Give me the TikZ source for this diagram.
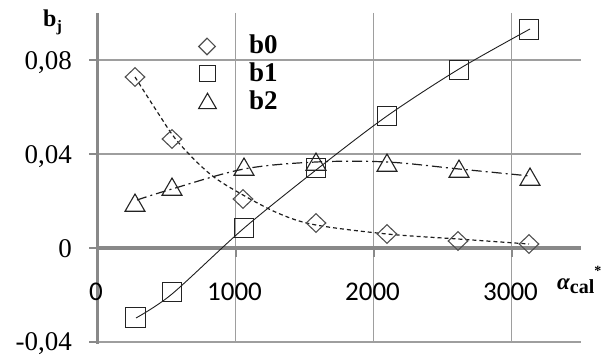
\documentclass[tikz,border=0pt]{standalone}
\usepackage{fontspec}
\setmainfont{Liberation Serif}
\newfontfamily\carl{Carlito}
\usetikzlibrary{shapes.geometric}
\definecolor{axgray}{RGB}{137,137,137}
\definecolor{grgray}{RGB}{158,158,158}
\definecolor{mkgray}{RGB}{80,80,80}
\definecolor{mkdark}{RGB}{35,35,35}
\definecolor{lndark}{RGB}{30,30,30}
\begin{document}
\begin{tikzpicture}[x=1pt,y=-1pt,
  axisln/.style={draw=axgray,line width=3.2pt},
  gridln/.style={draw=grgray,line width=1.1pt},
  tickln/.style={draw=axgray,line width=2.2pt},
  dia/.style={diamond,draw=mkgray,line width=1.1pt,minimum width=20pt,minimum height=19pt,inner sep=0pt},
  sqr/.style={rectangle,draw=mkdark,line width=1.1pt,minimum size=19.5pt,inner sep=0pt},
  tri/.style={regular polygon,regular polygon sides=3,draw=mkdark,line width=1.1pt,minimum size=23pt,inner sep=0pt},
  ldia/.style={dia,minimum width=17pt,minimum height=17pt},
  lsqr/.style={sqr,minimum size=16.5pt},
  ltri/.style={tri,minimum size=20.5pt},
  bzero/.style={draw=lndark,line width=1.2pt,dash pattern=on 4pt off 3pt},
  bone/.style={draw=lndark,line width=0.9pt},
  btwo/.style={draw=lndark,line width=1.2pt,dash pattern=on 10pt off 4pt on 2pt off 4pt},
  ytick/.style={anchor=base east,inner sep=0pt,font=\fontsize{27}{27}\selectfont},
  xtick/.style={anchor=base,inner sep=0pt,font=\carl\fontsize{27}{27}\selectfont},
  legtxt/.style={anchor=base west,inner sep=0pt,font=\bfseries\fontsize{27}{27}\selectfont}]
\useasboundingbox (0,0) rectangle (604,358);
% grid
\draw[gridln] (97,60) -- (581,60);
\draw[gridln] (97,154) -- (581,154);
\draw[gridln] (97,342) -- (581,342);
\draw[gridln] (235.7,13) -- (235.7,342);
\draw[gridln] (373.7,13) -- (373.7,342);
\draw[gridln] (511.7,13) -- (511.7,342);
% axes
\draw[axisln] (97.5,13) -- (97.5,343.5);
\draw[axisln] (96,248) -- (581,248);
\foreach \yy in {60,154,248,342} \draw[tickln] (89,\yy) -- (97,\yy);
\foreach \xx in {235.7,373.7,511.7} \draw[tickln] (\xx,248) -- (\xx,257);
% trend lines
\draw[bzero] plot[smooth,tension=0.55] coordinates {(135,77) (158,113) (178,142) (210,174) (243,195) (280,214) (316,225) (387,234) (458,239) (529,244)};
\draw[bone] plot[smooth,tension=0.5] coordinates {(136,318) (172,294) (243,229) (316,170) (387,116) (459,69) (530,29)};
\draw[btwo] plot[smooth,tension=0.55] coordinates {(137,200) (172,189) (244,169) (316,162) (387,162) (459,169) (530,176)};
% b0 markers
\node[dia] (d1) at (135,77) {};
\node[dia] (d2) at (172,139) {};
\node[dia] (d3) at (243,199) {};
\node[dia] (d4) at (316,223) {};
\node[dia] (d5) at (387,234) {};
\node[dia] (d6) at (458,241) {};
\node[dia] (d7) at (529,244) {};
% b1 markers
\node[sqr] (s1) at (135.5,317.5) {};
\node[sqr] (s2) at (172,292) {};
\node[sqr] (s3) at (244,228) {};
\node[sqr] (s4) at (316,168) {};
\node[sqr] (s5) at (387,116) {};
\node[sqr] (s6) at (459,70) {};
\node[sqr] (s7) at (529,29.5) {};
% b2 markers
\node[tri] (t1) at (135,205.5) {};
\node[tri] (t2) at (172,189.5) {};
\node[tri] (t3) at (244,169.5) {};
\node[tri] (t4) at (316,164.5) {};
\node[tri] (t5) at (387,165.5) {};
\node[tri] (t6) at (459,171.5) {};
\node[tri] (t7) at (530,179.5) {};
% legend
\node[ldia] (ld) at (207,46.5) {};
\node[lsqr] (ls) at (207.5,73.5) {};
\node[ltri] (lt) at (207.5,103.5) {};
\node[legtxt] (l0) at (249,54) {b0};
\node[legtxt] (l1) at (249,82) {b1};
\node[legtxt] (l2) at (249,110) {b2};
% y tick labels
\node[ytick] (y1) at (72,70) {0,08};
\node[ytick] (y2) at (72,164) {0,04};
\node[ytick] (y3) at (72,257) {0};
\node[ytick] (y4) at (72,350) {-0,04};
% x tick labels
\node[xtick] (x0) at (96,300) {0};
\node[xtick] (x1) at (234.5,300) {1000};
\node[xtick] (x2) at (372.5,300) {2000};
\node[xtick] (x3) at (510.5,300) {3000};
% axis titles
\node[anchor=base west,inner sep=0pt,font=\bfseries\fontsize{24}{24}\selectfont] (ylab) at (43,27) {b\raisebox{-5pt}{\fontsize{16}{16}\selectfont j}};
\node[anchor=base west,inner sep=0pt] (xlab) at (557,289) {{\bfseries\itshape\fontsize{23}{23}\selectfont α}\raisebox{-4pt}{\bfseries\fontsize{20}{20}\selectfont cal}\raisebox{14pt}{\bfseries\fontsize{14}{14}\selectfont *}};
\end{tikzpicture}
\end{document}
